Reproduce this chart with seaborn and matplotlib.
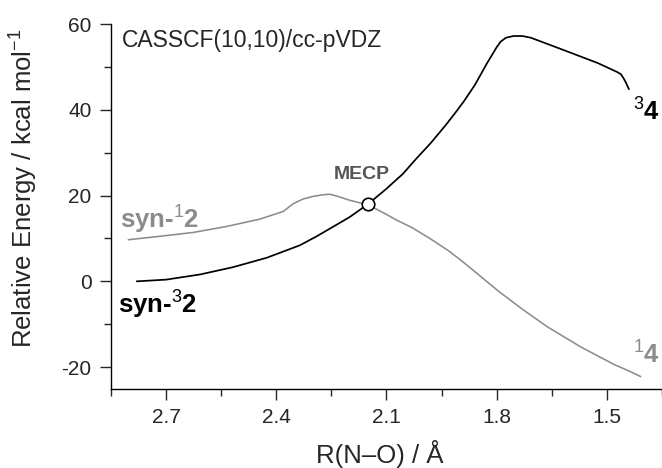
import numpy as np
import matplotlib
matplotlib.use('Agg')
import matplotlib.pyplot as plt
import seaborn as sns
import pandas as pd
from matplotlib.ticker import MultipleLocator

# triplet surface (syn-32 -> 34)
r_triplet = [2.78, 2.70, 2.608, 2.518, 2.426, 2.336, 2.29, 2.254, 2.20, 2.149, 2.10,
             2.073, 2.056, 2.02, 1.98, 1.94, 1.91, 1.89, 1.86, 1.826, 1.80, 1.789, 1.775,
             1.754, 1.73, 1.707, 1.617, 1.525, 1.472, 1.462, 1.455, 1.448, 1.44]
e_triplet = [0.0, 0.4, 1.6, 3.3, 5.5, 8.4, 10.5, 12.3, 15.0, 18.1, 21.6,
             23.7, 25.0, 28.5, 32.2, 36.3, 39.6, 41.9, 45.7, 50.9, 54.6, 55.9, 56.8,
             57.2, 57.2, 56.8, 53.9, 50.9, 48.8, 48.3, 47.4, 46.3, 44.8]

# singlet surface (syn-12 -> 14)
r_singlet = [2.803, 2.717, 2.626, 2.535, 2.445, 2.381, 2.354, 2.327, 2.30, 2.272, 2.254,
             2.236, 2.20, 2.149, 2.10, 2.073, 2.03, 1.982, 1.934, 1.90, 1.85, 1.798, 1.73,
             1.662, 1.571, 1.52, 1.48, 1.44, 1.408]
e_singlet = [9.7, 10.5, 11.4, 12.8, 14.5, 16.3, 18.1, 19.2, 19.8, 20.2, 20.3,
             19.9, 18.9, 17.8, 15.6, 14.3, 12.5, 10.0, 7.3, 5.1, 1.6, -2.1, -6.5,
             -10.6, -15.3, -17.6, -19.4, -20.9, -22.2]

mecp_r = [2.15]
mecp_e = [18.1]

x_ticks = [2.7, 2.4, 2.1, 1.8, 1.5]
y_ticks = [-20, 0, 20, 40, 60]

gray = '#8c8c8c'

sns.set_style('ticks')
plt.rcParams['font.family'] = ['Liberation Sans', 'DejaVu Sans']
plt.rcParams['mathtext.fontset'] = 'custom'
plt.rcParams['mathtext.rm'] = 'Liberation Sans'
plt.rcParams['mathtext.it'] = 'Liberation Sans'
plt.rcParams['mathtext.bf'] = 'Liberation Sans:bold'
plt.rcParams['axes.unicode_minus'] = False

triplet_df = pd.DataFrame({'R': r_triplet, 'E': e_triplet})
singlet_df = pd.DataFrame({'R': r_singlet, 'E': e_singlet})

fig = plt.figure(figsize=(6.62, 4.68), dpi=100)
ax = fig.add_axes([111 / 662, 1 - 389 / 468, 551 / 662, 365 / 468])

sns.lineplot(data=singlet_df, x='R', y='E', color=gray, linewidth=1.15, ax=ax)
sns.lineplot(data=triplet_df, x='R', y='E', color='black', linewidth=1.25, ax=ax)
ax.plot(mecp_r, mecp_e, 'o', markersize=9, markerfacecolor='white',
        markeredgecolor='black', markeredgewidth=1.2, zorder=5)

ax.set_xlim(2.85, 1.35)
ax.set_ylim(-25.1, 60)
ax.set_xticks(x_ticks)
ax.set_xticklabels([f'{v:.1f}' for v in x_ticks])
ax.set_yticks(y_ticks)
ax.set_yticklabels([str(v) for v in y_ticks])
ax.xaxis.set_minor_locator(MultipleLocator(0.15))
ax.yaxis.set_minor_locator(MultipleLocator(10))
ax.tick_params(which='major', direction='out', length=8, width=1.0, labelsize=15, pad=6)
ax.tick_params(which='minor', direction='out', length=5, width=1.0)
ax.set_xlabel('')
ax.set_ylabel('')

for side in ['top', 'right']:
    ax.spines[side].set_visible(False)
for side in ['left', 'bottom']:
    ax.spines[side].set_linewidth(1.0)
    ax.spines[side].set_color('black')
ax.spines['left'].set_bounds(-25.1, 60)

# annotations
ax.text(2.82, 56.2, 'CASSCF(10,10)/cc-pVDZ', fontsize=16.5, ha='left', va='center')
ax.text(2.826, 14.3, 'syn-$^{1}$2', fontsize=18.5, fontweight='bold', color=gray,
        ha='left', va='center')
ax.text(2.831, -5.4, 'syn-$^{3}$2', fontsize=18.5, fontweight='bold', color='black',
        ha='left', va='center')
ax.text(1.430, 39.4, '$^{3}$4', fontsize=18.5, fontweight='bold', color='black',
        ha='left', va='center')
ax.text(1.430, -17.1, '$^{1}$4', fontsize=18.5, fontweight='bold', color=gray,
        ha='left', va='center')
ax.text(2.243, 24.9, 'MECP', fontsize=14, fontweight='bold', color='#555555',
        ha='left', va='center')

fig.text(380 / 662, 1 - 454 / 468, 'R(N\u2013O) / \u00c5', fontsize=18.5,
         ha='center', va='center')
fig.text(24 / 662, 1 - 188 / 468, 'Relative Energy / kcal mol$^{\u2212 1}$', fontsize=18.5,
         rotation=90, ha='center', va='center')

fig.savefig('out.png', dpi=100)
